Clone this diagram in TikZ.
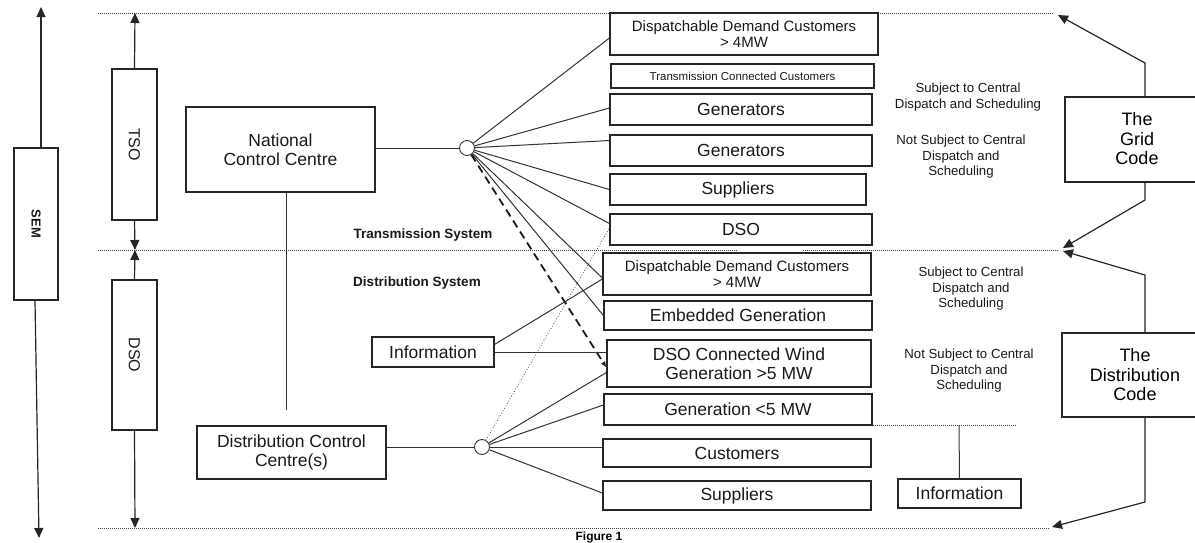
\documentclass[tikz,border=0pt]{standalone}
\usepackage{fontspec}
\setmainfont{Liberation Sans}
\usetikzlibrary{arrows.meta,calc}
\tikzset{
  box/.style={draw=black!85, line width=1.2pt, inner sep=0pt, align=center, text=black!90},
  big/.style={font=\fontsize{17.5}{19.5}\selectfont},
  mid/.style={font=\fontsize{15}{16.5}\selectfont},
  small/.style={font=\fontsize{11.5}{13}\selectfont},
  lbl/.style={inner sep=0pt, align=center, font=\fontsize{13.2}{15.5}\selectfont, text=black!90},
  bold/.style={inner sep=0pt, font=\bfseries\fontsize{13.5}{15}\selectfont, text=black!90},
  conn/.style={draw=black!80, line width=1pt},
  sep/.style={draw=black!75, line width=0.8pt, dash pattern=on 1pt off 1pt},
  arr/.style={draw=black!85, line width=1.2pt, -{Triangle[length=10pt,width=9pt]}},
  hub/.style={circle, draw=black!80, line width=0.9pt, fill=white, minimum size=15pt, inner sep=0pt}
}
\begin{document}
\begin{tikzpicture}[x=1pt,y=-1pt]
\useasboundingbox (0,0) rectangle (1195,542);
\clip (0,0) rectangle (1195,542);
% separators
\draw[sep] (98,13) -- (1053,13);
\draw[sep] (98,250) -- (737,250);
\draw[sep] (803,250) -- (1058,250);
\draw[sep] (98,528) -- (1050,528);
\draw[sep] (793,425) -- (1017,425);
% left column
\node[box, minimum width=44pt, minimum height=152pt] (sem) at (36,224) {\rotatebox{-90}{\bfseries\fontsize{13}{15}\selectfont SEM}};
\node[box, minimum width=45pt, minimum height=151pt] (tso) at (134.5,144.5) {\rotatebox{-90}{\fontsize{16}{18}\selectfont TSO}};
\node[box, minimum width=45pt, minimum height=150pt] (dsol) at (134.5,355) {\rotatebox{-90}{\fontsize{16}{18}\selectfont DSO}};
\coordinate (semtop) at (41,7);
\coordinate (sembot) at (39,538);
\coordinate (tsotop) at (135,13);
\coordinate (midup) at (135,250);
\coordinate (middn) at (135,250);
\coordinate (dsobot) at (135,528);
\draw[arr] ([xshift=5pt]sem.north) -- (semtop);
\draw[arr] ([xshift=-1pt]sem.south) -- (sembot);
\draw[arr] (tso.north) -- (tsotop);
\draw[arr] (tso.south) -- (midup);
\draw[arr] (dsol.north) -- (middn);
\draw[arr] (dsol.south) -- (dsobot);
% control centres
\node[box, big, minimum width=189pt, minimum height=85pt] (ncc) at (280.5,149.5) {National\\Control Centre};
\node[box, big, minimum width=189pt, minimum height=53pt] (dcc) at (291.5,452.5) {Distribution Control\\Centre(s)};
\node[box, big, minimum width=122pt, minimum height=30pt] (infol) at (433,352) {Information};
\node[hub] (c1) at (467,148) {};
\node[hub] (c2) at (482,447) {};
\coordinate (nccend) at (286,410);
\draw[conn] ([xshift=5.5pt]ncc.south) -- (nccend);
\draw[conn] (ncc.east |- c1) -- (c1.west);
\draw[conn] (dcc.east |- c2) -- (c2.west);
\node[bold] (ts) at (423,235) {Transmission System};
\node[bold] (ds) at (417,283) {Distribution System};
% right column boxes
\node[box, mid, minimum width=268pt, minimum height=42pt] (b1) at (744,34) {Dispatchable Demand Customers\\> 4MW};
\node[box, small, minimum width=263pt, minimum height=24pt] (b2) at (742.5,76) {Transmission Connected Customers};
\node[box, big, minimum width=262pt, minimum height=31pt] (b3) at (741,109.5) {Generators};
\node[box, big, minimum width=262pt, minimum height=31pt] (b4) at (741,150.5) {Generators};
\node[box, big, minimum width=256pt, minimum height=31pt] (b5) at (738,189.5) {Suppliers};
\node[box, big, minimum width=262pt, minimum height=31pt] (b6) at (741,229.5) {DSO};
\node[box, mid, minimum width=268pt, minimum height=42pt] (b7) at (737,274) {Dispatchable Demand Customers\\> 4MW};
\node[box, big, minimum width=268pt, minimum height=29pt] (b8) at (738,315.5) {Embedded Generation};
\node[box, big, minimum width=264pt, minimum height=47pt] (b9) at (739,363.5) {DSO Connected Wind\\Generation >5 MW};
\node[box, big, minimum width=268pt, minimum height=31pt] (b10) at (738,409.5) {Generation <5 MW};
\node[box, big, minimum width=268pt, minimum height=28pt] (b11) at (737,453) {Customers};
\node[box, big, minimum width=268pt, minimum height=29pt] (b12) at (737,495.5) {Suppliers};
% fan from national hub
\draw[conn] (c1) -- ([yshift=-4pt]b1.west);
\draw[conn] (c1) -- ([yshift=1.5pt]b3.west);
\draw[conn] (c1) -- ([yshift=10pt]b4.west);
\draw[conn] (c1) -- (b5.west);
\draw[conn] (c1) -- ([yshift=6pt]b6.west);
\draw[conn] (c1) -- ([yshift=-4pt]b7.west);
\draw[conn] (c1) -- (b8.west);
\draw[draw=black!90, line width=1.8pt, dash pattern=on 8pt off 5pt, -{Latex[length=6pt,width=5pt]}] (c1) -- ([yshift=-4pt]b9.west);
% information links
\draw[conn] ([yshift=-8pt]infol.north east) -- ([yshift=-5pt]b7.west);
\draw[conn] (infol.east) -- (infol.east -| b9.west);
% fan from distribution hub
\draw[draw=black!70, line width=0.8pt, dotted] (c2) -- ([yshift=1.5pt]b6.west);
\draw[conn] (c2) -- ([yshift=-9pt]b9.west);
\draw[conn] (c2) -- ([yshift=4.5pt]b10.west);
\draw[conn] (c2) -- (c2 -| b11.west);
\draw[conn] (c2) -- ([yshift=2.5pt]b12.west);
% right labels
\node[lbl] (s1) at (968,97) {Subject to Central\\Dispatch and Scheduling};
\node[lbl] (s2) at (961,157) {Not Subject to Central\\Dispatch and\\Scheduling};
\node[lbl] (s3) at (971,289) {Subject to Central\\Dispatch and\\Scheduling};
\node[lbl] (s4) at (969,371) {Not Subject to Central\\Dispatch and\\Scheduling};
% codes
\node[box, minimum width=135pt, minimum height=85pt] (grid) at (1132.5,139.5) {};
\node[inner sep=0pt, align=center, font=\fontsize{18}{19.5}\selectfont] (gridt) at (1137,139) {The\\Grid\\Code};
\node[box, minimum width=138pt, minimum height=84pt] (dcode) at (1131,375) {};
\node[inner sep=0pt, align=center, font=\fontsize{18}{19.5}\selectfont] (dcodet) at (1135,375) {The\\Distribution\\Code};
\coordinate (gx) at (1145,0);
\coordinate (g1) at (1145,63);
\coordinate (g2) at (1145,200);
\coordinate (d1) at (1145,275);
\coordinate (d2) at (1145,502);
\coordinate (tip1) at (1058,15);
\coordinate (tip2) at (1063,248);
\coordinate (tip3) at (1063,251);
\coordinate (tip4) at (1052,527);
\draw[arr] (grid.north -| gx) -- (g1) -- (tip1);
\draw[arr] (grid.south -| gx) -- (g2) -- (tip2);
\draw[arr] (dcode.north -| gx) -- (d1) -- (tip3);
\draw[arr] (dcode.south -| gx) -- (d2) -- (tip4);
% right information
\node[box, big, minimum width=123pt, minimum height=29pt] (infor) at (959.5,493.5) {Information};
\coordinate (infotop) at (959,425);
\draw[conn] (infotop) -- (infor.north);
% caption
\node[inner sep=0pt, anchor=base, font=\bfseries\fontsize{12}{14}\selectfont] (fig) at (599,540) {Figure 1};
\end{tikzpicture}
\end{document}
